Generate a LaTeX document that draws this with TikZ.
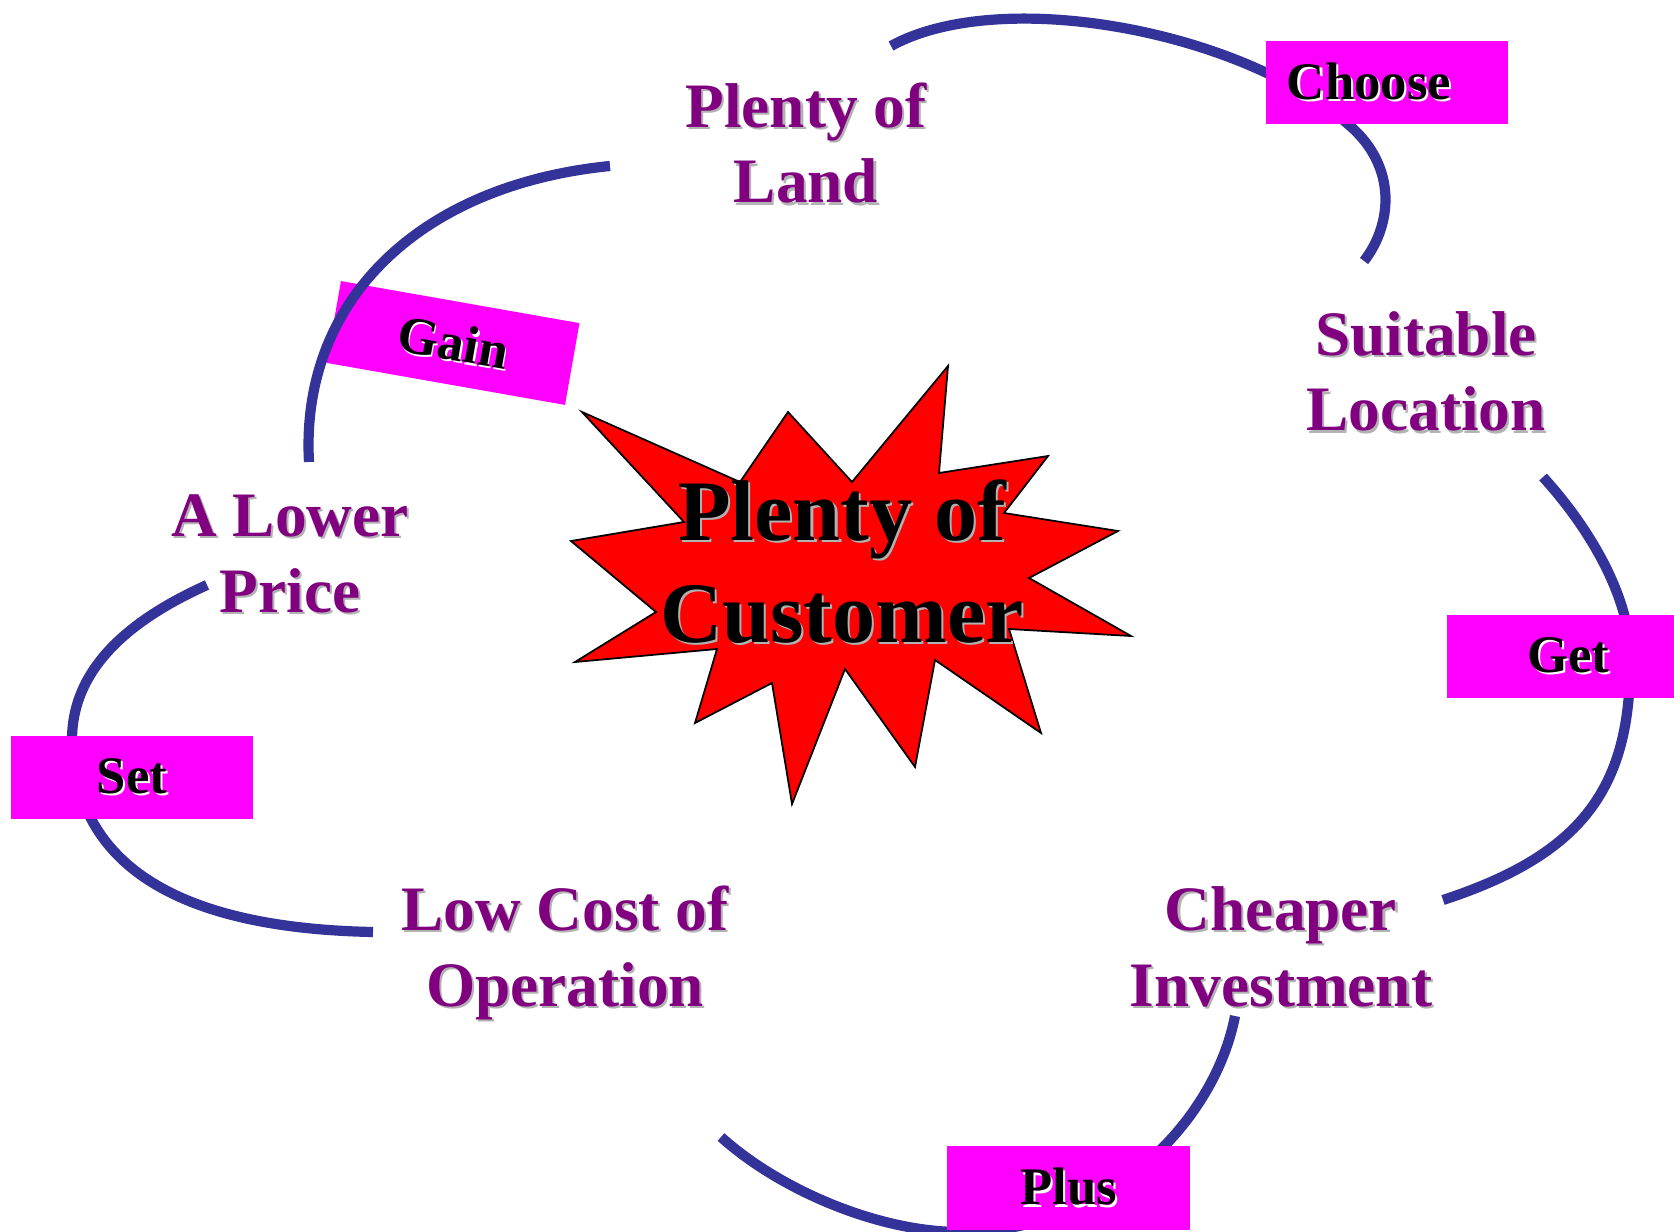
\documentclass[tikz,border=0pt]{standalone}
\usepackage{fontspec}
\setmainfont{Liberation Serif}
\usepackage{xcolor}
\definecolor{lblpurple}{RGB}{128,0,128}
\definecolor{ringblue}{RGB}{51,51,153}
\definecolor{boxpink}{RGB}{255,0,255}
\definecolor{shadegray}{RGB}{178,178,178}
\NewDocumentCommand\shd{O{shadegray}m}{\rlap{\kern0.6pt\raisebox{-0.6pt}{\color{#1}#2}}#2}

\begin{document}
\begin{tikzpicture}[x=0.01cm,y=-0.01cm,
    lbl/.style={align=center,anchor=base,inner sep=0,text=lblpurple,
        font=\fontsize{18pt}{21.6pt}\selectfont\bfseries},
    hub/.style={align=center,anchor=base,inner sep=0,
        font=\fontsize{24.5pt}{29pt}\selectfont\bfseries},
    verb/.style={fill=boxpink,minimum width=2.42cm,minimum height=0.83cm,inner sep=0,
        font=\fontsize{15pt}{18pt}\selectfont\bfseries},
    ring/.style={draw=ringblue,line width=2.9pt}]
        \useasboundingbox (0,0) rectangle (1674,1231);
        \clip (0,0) rectangle (1674,1231);
        \fill[white] (0,0) rectangle (1674,1231);
        % the arc runs over this one
        \node[verb,rotate=-10] (gain) at (453,343) {\shd[white]{Gain}};
        % ends of the arcs
        \coordinate (landR) at (891,46);
        \coordinate (locT) at (1364,261);
        \coordinate (landL) at (610,166);
        \coordinate (priceT) at (309,462);
        \coordinate (priceB) at (207,585);
        \coordinate (costL) at (373,932);
        \coordinate (costB) at (721,1137);
        \coordinate (investB) at (1235,1016);
        \coordinate (locB) at (1543,477);
        \coordinate (investR) at (1443,900);
        \draw[ring] (landR) .. controls (1000,-14) and (1240,30) .. (1349,125)
            .. controls (1398,167) and (1392,225) .. (locT);
        \draw[ring] (landL) .. controls (420,185) and (300,300) .. (priceT);
        \draw[ring] (priceB) .. controls (127,621) and (72,670) .. (72,740)
            .. controls (75,860) and (170,928) .. (costL);
        \draw[ring] (costB) .. controls (781,1191) and (880,1232) .. (960,1232)
            .. controls (1110,1232) and (1215,1120) .. (investB);
        \draw[ring] (locB) .. controls (1593,532) and (1630,600) .. (1630,656)
            .. controls (1632,790) and (1580,855) .. (investR);
        \node[verb] (choose) at (1387,82.5) {\shd[white]{Choose}\kern0.36cm};
        \node[verb] (get) at (1568,656.5) {\shd[white]{Get}};
        \node[verb] (set) at (132,777.5) {\shd[white]{Set}};
        \node[verb] (plus) at (1068.5,1188) {\shd[white]{Plus}};
        \node[lbl] (land) at (806,203) {\shd{Plenty of}\\\shd{Land}};
        \node[lbl] (loc) at (1426,431) {\shd{Suitable}\\\shd{Location}};
        \node[lbl] (price) at (290,612) {\shd{A Lower}\\\shd{Price}};
        \node[lbl] (cost) at (565,1006) {\shd{Low Cost of}\\\shd{Operation}};
        \node[lbl] (invest) at (1281,1006) {\shd{Cheaper}\\\shd{Investment}};
        % the star
        \draw[fill=red,line width=0.5pt] (582,412) -- (740,482) -- (788,412) -- (852,482)
            -- (948,366) -- (939,473) -- (1048,456) -- (1004,513) -- (1118,531) -- (1029,578)
            -- (1131,636) -- (1009,629) -- (1041,733) -- (935,660) -- (915,767) -- (845,669)
            -- (792,804) -- (772,683) -- (695,723) -- (717,649) -- (575,662) -- (656,612)
            -- (571,541) -- (684,522) -- cycle;
        \node[hub] (cust) at (842,642) {\shd{Plenty of}\\\shd{Customer}};
    \end{tikzpicture}
\end{document}
